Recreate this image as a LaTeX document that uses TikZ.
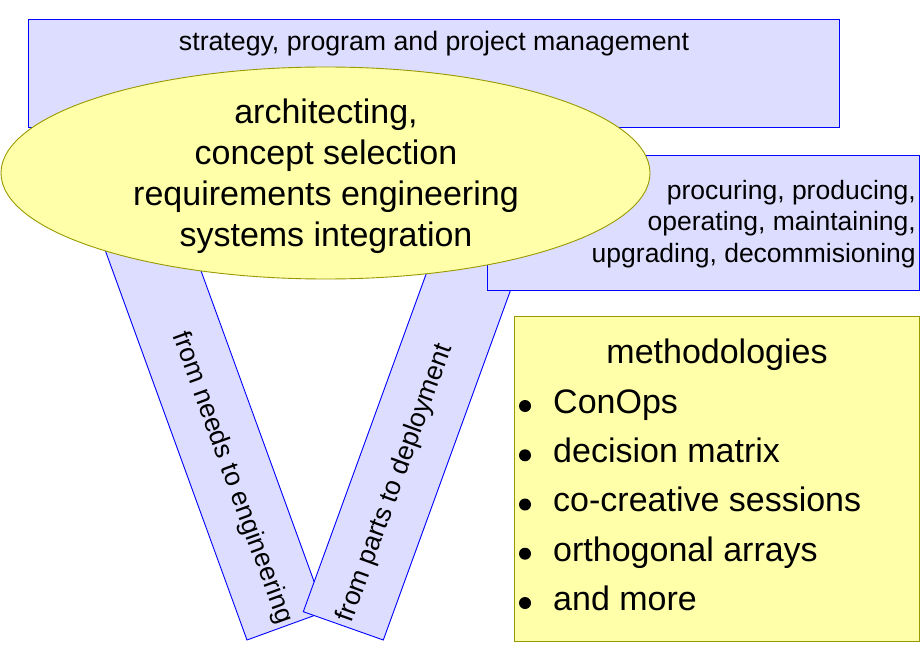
\documentclass[tikz,border=0pt]{standalone}
\usepackage{fontspec}
\setmainfont{Liberation Sans}
\usetikzlibrary{shapes.geometric}
\definecolor{lav}{HTML}{DDDDFF}
\definecolor{bord}{HTML}{0000FF}
\definecolor{yel}{HTML}{FFFFAA}
\definecolor{oliv}{HTML}{999900}
\tikzset{
  lavbox/.style={draw=bord, fill=lav, line width=1.1pt, inner sep=0pt, anchor=north west},
  barshape/.style={draw=bord, fill=lav, line width=0.9pt, line join=miter},
  yelbox/.style={draw=oliv, fill=yel, line width=1.1pt, inner sep=0pt, anchor=north west},
  ellshape/.style={ellipse, draw=oliv, fill=yel, line width=0.9pt, inner sep=0pt},
  txt/.style={inner sep=0pt, text=black},
  midtxt/.style={txt, font=\fontsize{26.5}{31.6}\selectfont},
  bigtxt/.style={txt, font=\fontsize{34}{41}\selectfont},
  bul/.style={fill=black}
}
\begin{document}
\begin{tikzpicture}[x=1pt,y=-1pt]
\useasboundingbox (0,0) rectangle (920,660);
% top rectangle
\node[lavbox, minimum width=810.5pt, minimum height=108pt] (top) at (28,19) {};
\node[txt, anchor=base, font=\fontsize{26.7}{32}\selectfont] (toptxt) at (434,51) {strategy, program and project management};
% left bar
\coordinate (lbl) at (247,640);
\coordinate (lbr) at (325,611.6);
\coordinate (ltr) at (171.1,188.6);
\coordinate (ltl) at (93.1,217);
\draw[barshape] (lbl) -- (lbr) -- (ltr) -- (ltl) -- cycle;
\node[midtxt, rotate=-70] (ltxt) at (232,478) {from needs to engineering};
% right bar
\coordinate (rbl) at (303.3,611.7);
\coordinate (rbr) at (383.3,640);
\coordinate (rtr) at (526.9,245.2);
\coordinate (rtl) at (446.9,216.9);
\draw[barshape] (rbl) -- (rbr) -- (rtr) -- (rtl) -- cycle;
\node[midtxt, rotate=70] (rtxt) at (395.5,483) {from parts to deployment};
% right rectangle
\node[lavbox, minimum width=431.5pt, minimum height=134.5pt] (right) at (487,155) {};
\node[midtxt, align=right, anchor=east] (righttxt) at (916,224) {procuring, producing,\\operating, maintaining,\\upgrading, decommisioning};
% ellipse
\node[ellshape, minimum width=649pt, minimum height=212pt] (ell) at (325.5,173) {};
\node[bigtxt, align=center] (elltxt) at (326,176.5) {architecting,\\concept selection\\requirements engineering\\systems integration};
% methodologies box
\node[yelbox, minimum width=405pt, minimum height=324.5pt] (meth) at (514,316) {};
\node[bigtxt, anchor=base] (mtitle) at (717,363.3) {methodologies};
\fill[bul] (525,406) circle (6pt);
\node[bigtxt, anchor=base west] (m1) at (553,413.3) {ConOps};
\fill[bul] (525,455.3) circle (6pt);
\node[bigtxt, anchor=base west] (m2) at (553,462.6) {decision matrix};
\fill[bul] (525,504.5) circle (6pt);
\node[bigtxt, anchor=base west] (m3) at (553,511.8) {co-creative sessions};
\fill[bul] (525,553.7) circle (6pt);
\node[bigtxt, anchor=base west] (m4) at (553,561) {orthogonal arrays};
\fill[bul] (525,603) circle (6pt);
\node[bigtxt, anchor=base west] (m5) at (553,610.3) {and more};
\end{tikzpicture}
\end{document}
